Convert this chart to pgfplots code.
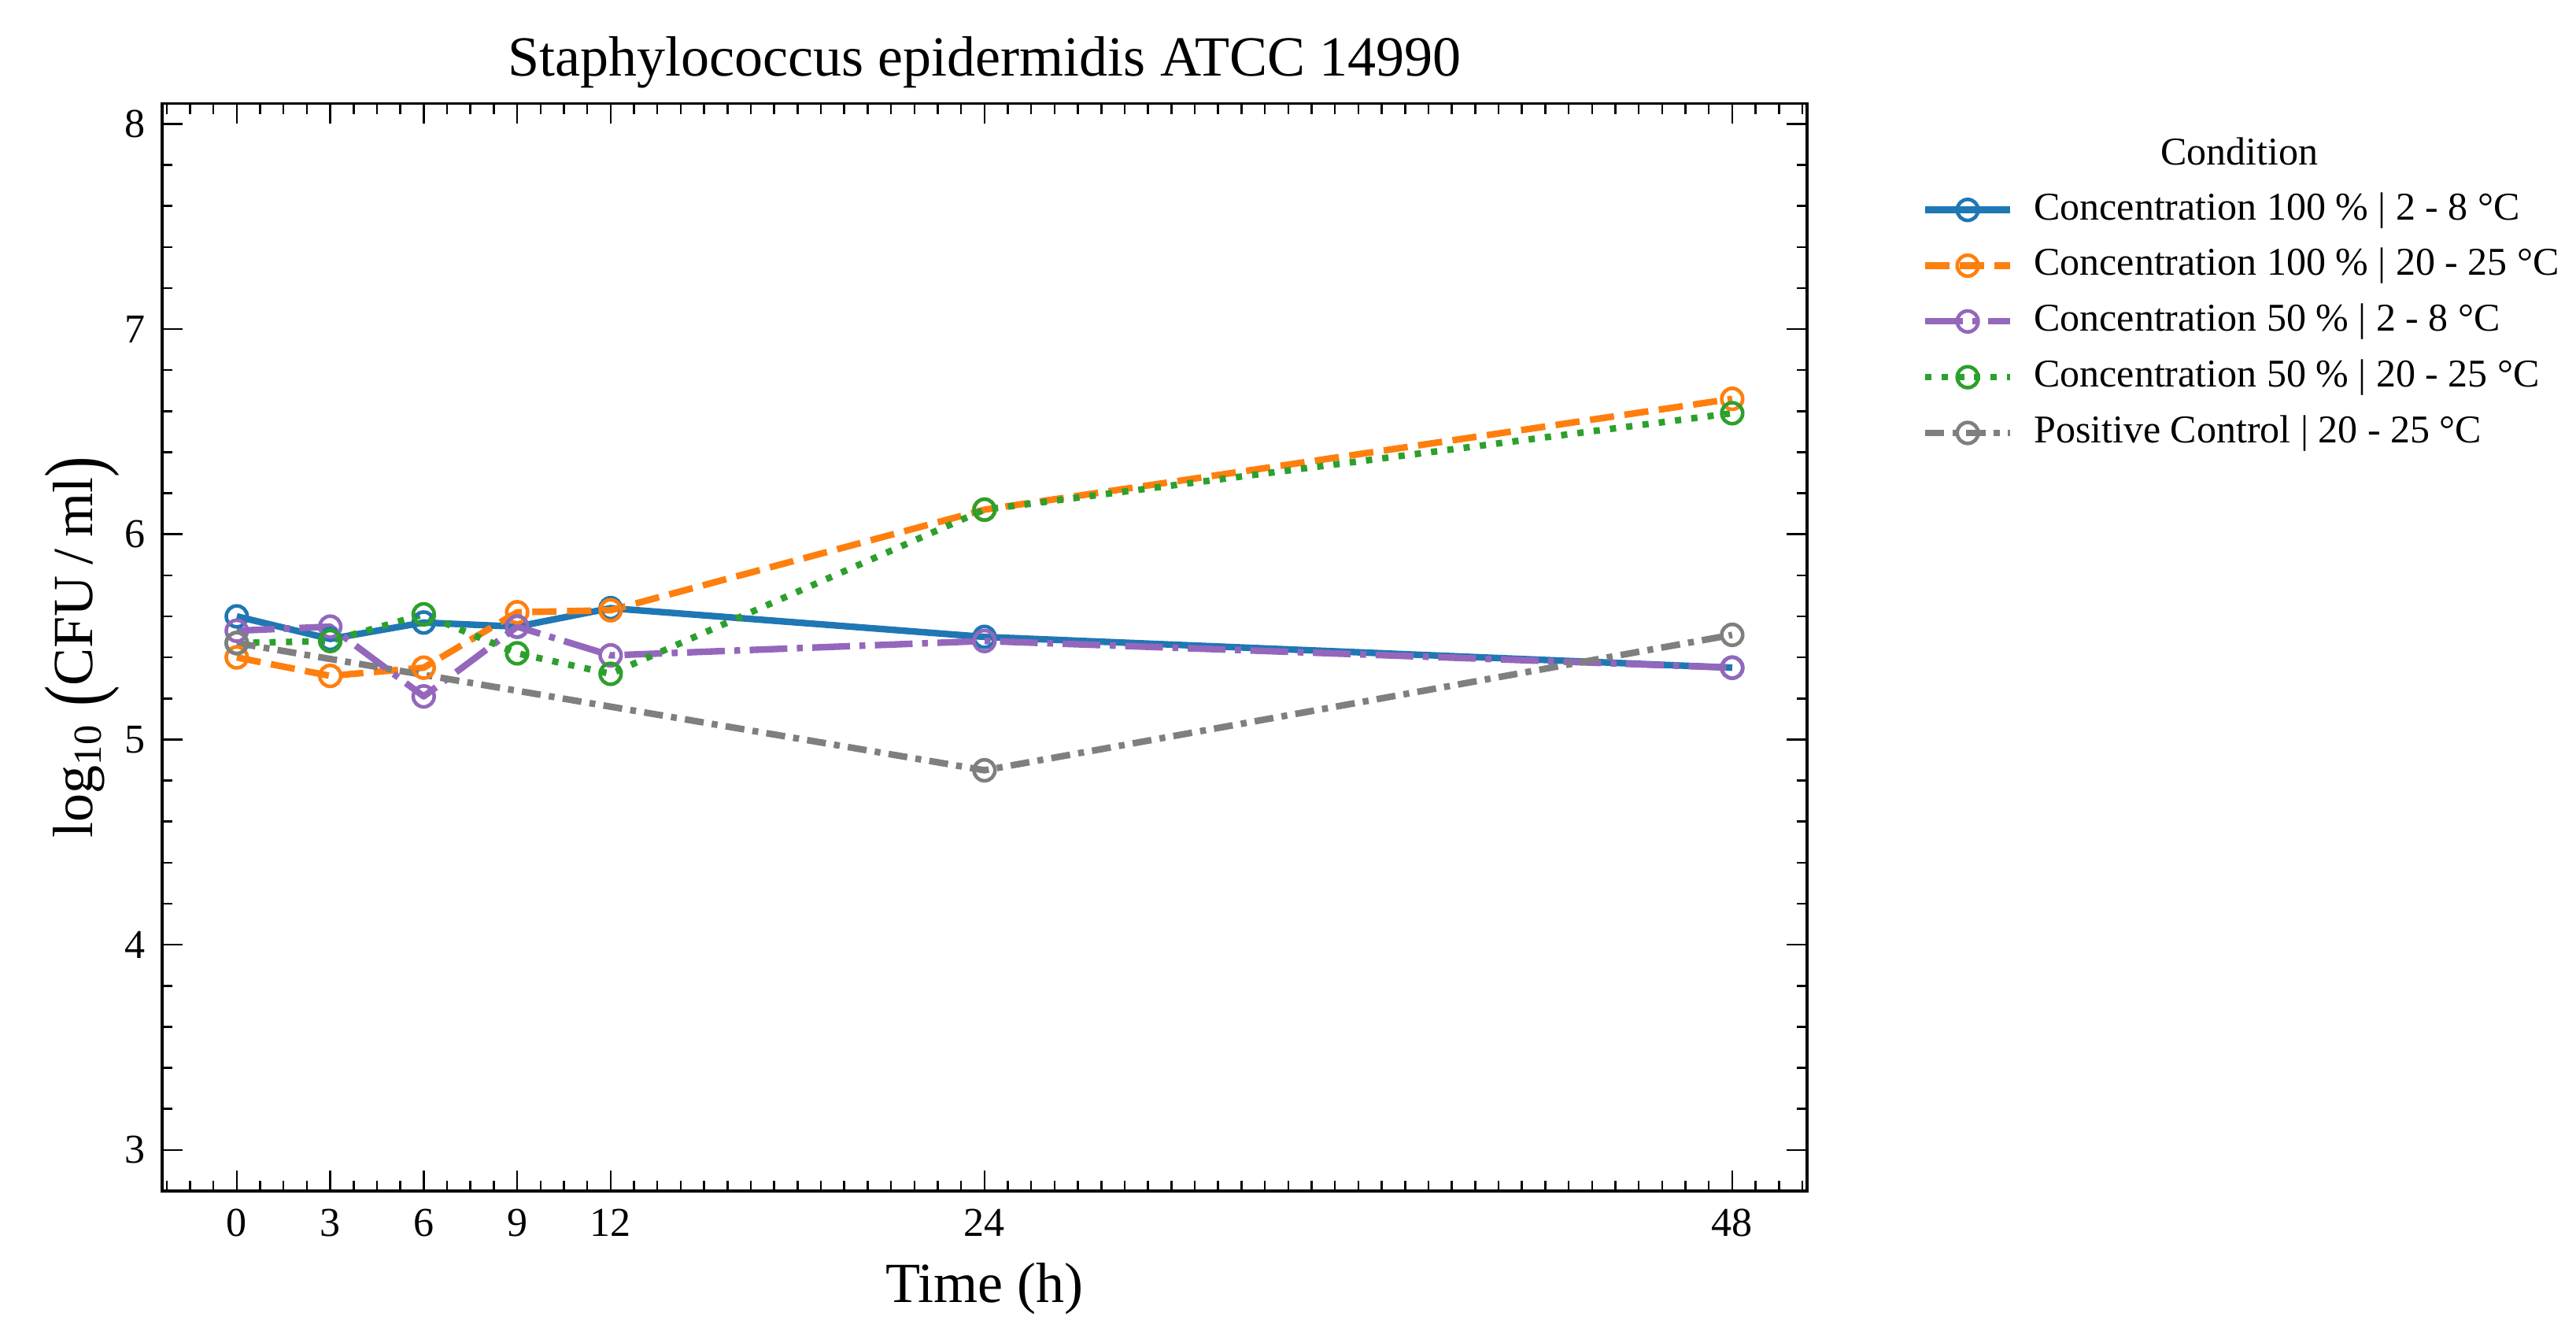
\documentclass[border=0pt]{standalone}
\usepackage{fontspec}
\setmainfont{Liberation Serif}
\usepackage{pgfplots}
\pgfplotsset{compat=1.18}
\definecolor{cblue}{HTML}{1F77B4}
\definecolor{corange}{HTML}{FF7F0E}
\definecolor{cpurple}{HTML}{9467BD}
\definecolor{cgreen}{HTML}{2CA02C}
\definecolor{cgray}{HTML}{7F7F7F}
\newcommand{\bigparen}[1]{\raisebox{-0.16em}{\scalebox{1.1}[1.45]{#1}}}
\begin{document}
\begin{tikzpicture}
\begin{axis}[
  scale only axis, width=501.6pt, height=331.6pt,
  xmin=-2.4, xmax=50.4, ymin=2.8, ymax=8.1,
  xtick={0,3,6,9,12,24,48},
  minor xtick={-2.25,-1.5,...,50.25},
  ytick={3,4,5,6,7,8}, minor y tick num=4,
  tick align=inside, xtick pos=both, ytick pos=both,
  major tick length=6.2pt, minor tick length=3.2pt,
  every tick/.style={black, line width=0.6pt},
  axis line style={line width=0.8pt},
  /pgf/number format/assume math mode=true,
  ticklabel style={font=\fontsize{12.5}{14}\selectfont},
  xticklabel style={anchor=base, inner sep=0pt, yshift=-13.8pt},
  yticklabel style={anchor=east, inner sep=0pt, xshift=-5pt},
  title={Staphylococcus epidermidis ATCC 14990},
  title style={font=\fontsize{17.3}{20}\selectfont, at={(axis description cs:0.5,1)}, anchor=base, yshift=2.3pt, inner sep=0pt},
  xlabel={Time (h)},
  xlabel style={font=\fontsize{17.3}{20}\selectfont, at={(axis description cs:0.5,0)}, anchor=base, yshift=-34pt, inner sep=0pt},
  ylabel={log\textsubscript{10}\hspace{0.3em}\bigparen{(}CFU\hspace{0.2em}/\hspace{0.2em}ml\bigparen{)}},
  ylabel style={font=\fontsize{17.3}{20}\selectfont, at={(axis description cs:-0.0421,0.5)}, anchor=base, inner sep=0pt},
  legend style={at={(axis description cs:1.0698,0.9201)}, anchor=north west, draw=none, fill=none, inner sep=0pt, outer sep=0pt,
    font=\fontsize{12}{14}\selectfont, row sep=5pt,
    nodes={inner sep=0pt, text height=9pt, text depth=3pt},
    /tikz/every odd column/.append style={column sep=6.2pt}},
  legend cell align=left,
  legend image code/.code={\draw[mark repeat=2,mark phase=2] plot coordinates {(0pt,0pt) (13pt,0pt) (26pt,0pt)};},
  every axis plot/.append style={line width=2pt, line join=round, mark=o, mark size=3.2pt, mark options={solid, line width=1.1pt, fill=none}},
]
\addplot[color=cblue, solid] coordinates {(0,5.60) (3,5.49) (6,5.57) (9,5.55) (12,5.64) (24,5.50) (48,5.35)};
\addlegendentry{Concentration 100 \% | 2 - 8 °C}
\addplot[color=corange, dash pattern=on 7.4pt off 3.2pt] coordinates {(0,5.40) (3,5.31) (6,5.35) (9,5.62) (12,5.63) (24,6.12) (48,6.66)};
\addlegendentry{Concentration 100 \% | 20 - 25 °C}
\addplot[color=cpurple, dash pattern=on 11.5pt off 2.9pt on 1.8pt off 2.9pt] coordinates {(0,5.53) (3,5.55) (6,5.21) (9,5.55) (12,5.41) (24,5.48) (48,5.35)};
\addlegendentry{Concentration 50 \% | 2 - 8 °C}
\addplot[color=cgreen, dash pattern=on 1.9pt off 3.1pt] coordinates {(0,5.47) (3,5.48) (6,5.61) (9,5.42) (12,5.32) (24,6.12) (48,6.59)};
\addlegendentry{Concentration 50 \% | 20 - 25 °C}
\addplot[color=cgray, dash pattern=on 5.8pt off 2.5pt on 1.8pt off 2.5pt] coordinates {(0,5.47) (24,4.85) (48,5.51)};
\addlegendentry{Positive Control | 20 - 25 °C}
\coordinate (legt) at (axis description cs:1.2628,0.9554);
\coordinate (bl) at (axis description cs:0,0);
\end{axis}
\node[font=\fontsize{12}{14}\selectfont] at (legt) {Condition};
\pgfresetboundingbox
\path (bl) ++(-49.4pt,-44.9pt) rectangle ++(785.5pt,408pt);
\end{tikzpicture}
\end{document}
